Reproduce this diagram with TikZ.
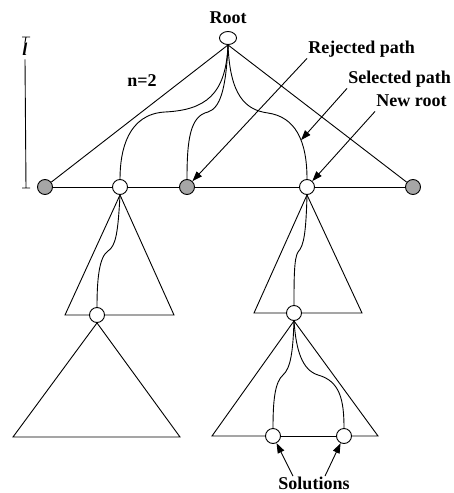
\documentclass[tikz,border=0pt]{standalone}
\usepackage{fontspec}
\setmainfont{Liberation Serif}
\usetikzlibrary{arrows.meta,shapes.geometric}
\definecolor{LeafGray}{HTML}{A6A6A6}

\begin{document}
\begin{tikzpicture}[x=1pt, y=-1pt, line width=.9pt, >={Triangle[length=10pt,width=7pt]}, font=\fontsize{18}{20}\selectfont\bfseries]
\tikzset{pt/.style={circle, draw, fill=white, inner sep=0pt, minimum size=15pt}, grayleaf/.style={pt, fill=LeafGray}, lbl/.style={inner sep=1pt, text height=12.5pt, text depth=4pt}, arr/.style={->}}
\useasboundingbox (0,0) rectangle (453,493);
% first level
\node[ellipse, draw, fill=white, inner sep=0pt, minimum width=17pt, minimum height=13pt] (root) at (228,38) {};
\node[lbl, anchor=base] (rootlbl) at (228,23) {Root};
\node[grayleaf] (a) at (45,187) {};
\node[pt] (b) at (120,187) {};
\node[grayleaf] (c) at (187,187) {};
\node[pt] (d) at (307,187) {};
\node[grayleaf] (e) at (413,187) {};
\foreach \u/\v in {a/b,b/c,c/d,d/e} \draw (\u) -- (\v);
\draw (root.south) -- (a);
\draw (root.south) -- (e);
\draw (root.south) .. controls (226,95) and (205,110) .. (165,112) .. controls (128,114) and (120,150) .. (b.north);
\draw (root.south) .. controls (226,90) and (220,108) .. (208,112) .. controls (190,116) and (187,140) .. (c.north);
\draw (root.south) .. controls (230,95) and (245,110) .. (268,113) .. controls (295,117) and (307,140) .. coordinate[pos=.6] (selpt) (d.north);
% depth bar
\node[lbl, inner sep=0pt, anchor=base, font=\fontsize{18}{20}\selectfont\bfseries\itshape] (len) at (25,55) {l};
\coordinate (ltop) at (26,37);
\coordinate (lbot) at (26,188);
\draw (len.north) -- (ltop) ++(-4,0) -- ++(8,0);
\draw (len.south) -- (lbot) ++(-4,0) -- ++(8,0);
\node[lbl, anchor=base] (n) at (142,86) {n=2};
% left subtree
\node[pt] (f) at (97,315) {};
\coordinate (fl) at (65,315);
\coordinate (fr) at (174,315);
\draw (b.south) -- (fl) -- (f.west);
\draw (b.south) -- (fr) -- (f.east);
\draw (b.south) .. controls (118,232) and (116,246) .. (108,251) .. controls (99,257) and (97,280) .. (f.north);
\coordinate (gl) at (13,437);
\coordinate (gr) at (180,437);
\draw (f.south) -- (gl) -- (gr) -- (f.south);
% right subtree
\node[pt] (g) at (294,313) {};
\coordinate (hl) at (254,313);
\coordinate (hr) at (362,313);
\draw (d.south) -- (hl) -- (g.west);
\draw (d.south) -- (hr) -- (g.east);
\draw (d.south) .. controls (306,232) and (304,246) .. (298,252) .. controls (294,258) and (294,280) .. (g.north);
\node[pt] (s1) at (273,436) {};
\node[pt] (s2) at (344,436) {};
\coordinate (kl) at (212,436);
\coordinate (kr) at (378,436);
\draw (g.south) -- (kl) -- (s1.west);
\draw (s1.east) -- (s2.west);
\draw (s2.east) -- (kr) -- (g.south);
\draw (g.south) .. controls (293,350) and (291,368) .. (283,375) .. controls (275,382) and (273,400) .. (s1.north);
\draw (g.south) .. controls (296,350) and (302,370) .. (318,375) .. controls (340,381) and (344,400) .. (s2.north);
% labels and pointers
\node[lbl, anchor=base west] (rej) at (307,53) {Rejected path};
\node[lbl, anchor=base west] (sel) at (347,83) {Selected path};
\node[lbl, anchor=base west] (newr) at (375,106) {New root};
\node[lbl, inner sep=0pt, text depth=0pt, anchor=base] (sol) at (314,489) {Solutions};
\draw[arr] (rej.south west) -- (c);
\draw[arr] (sel.south west) -- (selpt);
\draw[arr] (newr.south west) -- (d);
\draw[arr] ([xshift=-21pt]sol.north) -- (s1);
\draw[arr] ([xshift=11pt]sol.north) -- (s2);
\end{tikzpicture}
\end{document}
